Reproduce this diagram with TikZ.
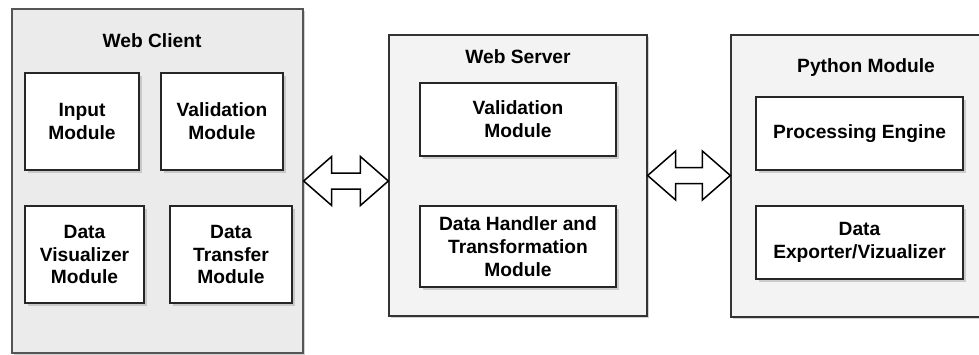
\documentclass[tikz,border=0pt]{standalone}
\usepackage{fontspec}
\setmainfont{Liberation Sans}
\usepackage{tikz}
\usetikzlibrary{calc}
\usetikzlibrary{shadows}

\definecolor{clientgray}{HTML}{EBEBEB}
\definecolor{boxgray}{HTML}{F3F3F3}
\definecolor{edgegray}{HTML}{555555}

\tikzset{
  container/.style={draw=#1, line width=1.3pt, fill=boxgray, rectangle, inner sep=0pt,
    drop shadow={shadow xshift=2pt, shadow yshift=-2pt, fill=black!35}},
  container/.default={black!80},
  module/.style={draw=black!85, line width=1.2pt, fill=white, rectangle, inner sep=0pt,
    align=center, font=\bfseries\fontsize{19.2pt}{22.8pt}\selectfont,
    drop shadow={shadow xshift=2.5pt, shadow yshift=-2.5pt, fill=black!35}},
  title/.style={anchor=base, font=\bfseries\fontsize{19.2pt}{22.8pt}\selectfont},
  dblarrow/.style={draw=black, line width=1.5pt, fill=white, line join=miter}
}

\begin{document}
\begin{tikzpicture}[x=1pt, y=-1pt]
    \useasboundingbox (0,0) rectangle (979,354);
    \clip (0,0) rectangle (979,354);
    % containers
    \node[container=edgegray, fill=clientgray, minimum width=291, minimum height=344] (client) at (157.5,181) {};
    \node[container, minimum width=258, minimum height=281] (server) at (518,175.5) {};
    \node[container, minimum width=270, minimum height=282] (python) at (866,176) {};
    \node[title] (clienttitle) at (152,47) {Web Client};
    \node[title] (servertitle) at (518,63) {Web Server};
    \node[title] (pythontitle) at (866,72) {Python Module};
    % web client
    \node[module, minimum width=114, minimum height=97] (input) at (82,121.5) {Input\\Module};
    \node[module, minimum width=122, minimum height=97] (cvalid) at (222,121.5) {Validation\\Module};
    \node[module, minimum width=119, minimum height=97] (visual) at (84.5,254.5) {Data\\Visualizer\\Module};
    \node[module, minimum width=122, minimum height=97] (transfer) at (231,254.5) {Data\\Transfer\\Module};
    % web server
    \node[module, minimum width=196, minimum height=73] (svalid) at (518,119.5) {Validation\\Module};
    \node[module, minimum width=196, minimum height=81] (handler) at (518,246.5) {Data Handler and\\Transformation\\Module};
    % python module
    \node[module, minimum width=207, minimum height=73] (engine) at (859.5,133.5) {Processing Engine};
    \node[module, minimum width=207, minimum height=73] (exporter) at (859.5,242.5) {Data\\Exporter/Vizualizer};
    % double arrows
    \coordinate (a1l) at (client.east);
    \coordinate (a1r) at (server.west |- a1l);
    \coordinate (a2l) at (server.east);
    \coordinate (a2r) at (python.west |- a2l);
    \foreach \l/\r in {a1l/a1r, a2l/a2r}
      \draw[dblarrow] (\l) -- ($(\l)+(28,-24.5)$) -- ($(\l)+(28,-8)$) -- ($(\r)+(-28,-8)$)
        -- ($(\r)+(-28,-24.5)$) -- (\r) -- ($(\r)+(-28,24.5)$) -- ($(\r)+(-28,8)$)
        -- ($(\l)+(28,8)$) -- ($(\l)+(28,24.5)$) -- cycle;
\end{tikzpicture}
\end{document}
